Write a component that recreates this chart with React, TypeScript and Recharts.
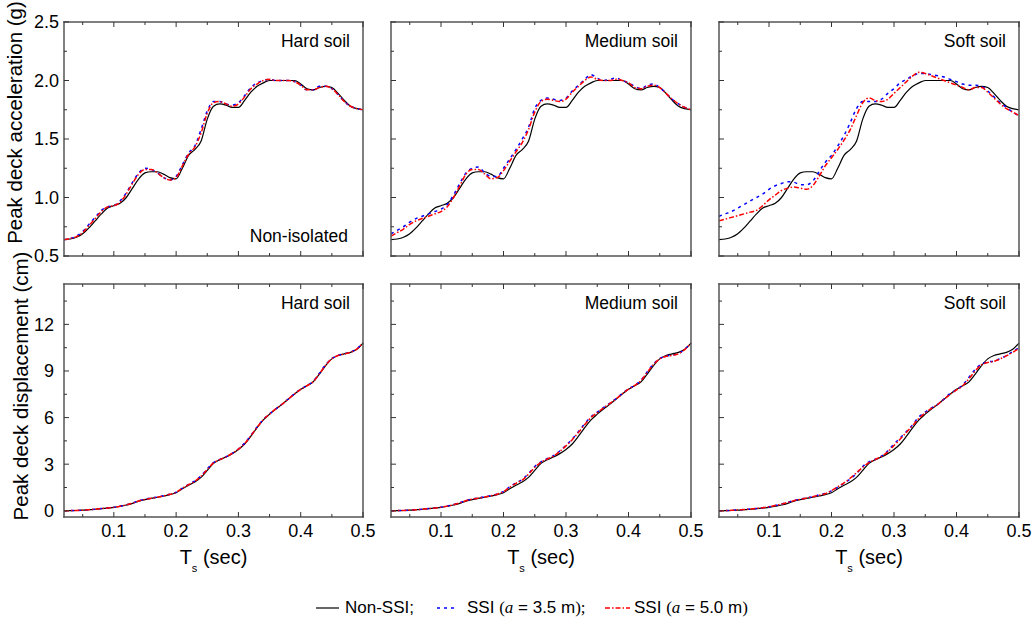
import React from "react";
import { LineChart, Line, XAxis, YAxis } from "recharts";

const FONT = "'Liberation Sans', Arial, sans-serif";
const SERIF = "'Liberation Serif', 'Times New Roman', serif";

// structural period Ts (sec)
const periods = [
  0.02, 0.03, 0.04, 0.05, 0.06, 0.07, 0.08, 0.09, 0.1,
  0.11, 0.12, 0.13, 0.14, 0.15, 0.16, 0.17, 0.18, 0.19, 0.2,
  0.21, 0.22, 0.23, 0.24, 0.25, 0.26, 0.27, 0.28, 0.29, 0.3,
  0.31, 0.32, 0.33, 0.34, 0.35, 0.36, 0.37, 0.38, 0.39, 0.4,
  0.41, 0.42, 0.43, 0.44, 0.45, 0.46, 0.47, 0.48, 0.49, 0.5,
];

// peak deck acceleration (g)
const accNonSsi = [
  0.64, 0.645, 0.66, 0.69, 0.74, 0.8, 0.86, 0.91, 0.93,
  0.95, 1.0, 1.08, 1.16, 1.21, 1.22, 1.22, 1.2, 1.17, 1.16,
  1.25, 1.36, 1.41, 1.48, 1.67, 1.78, 1.8, 1.79, 1.77, 1.77,
  1.83, 1.9, 1.95, 1.98, 2.0, 2.0, 2.0, 2.0, 2.0, 1.97,
  1.93, 1.92, 1.94, 1.95, 1.94, 1.89, 1.83, 1.78, 1.76, 1.75,
];
const accHard35 = [
  0.64, 0.65, 0.67, 0.71, 0.77, 0.83, 0.89, 0.92, 0.93,
  0.97, 1.04, 1.13, 1.21, 1.25, 1.24, 1.21, 1.17, 1.15, 1.18,
  1.28, 1.38, 1.44, 1.58, 1.74, 1.82, 1.82, 1.8, 1.79, 1.81,
  1.87, 1.94, 1.98, 2.0, 2.01, 2.0, 2.0, 2.0, 1.99, 1.96,
  1.92, 1.92, 1.95, 1.95, 1.93, 1.88, 1.82, 1.78, 1.76, 1.75,
];
const accHard50 = [
  0.64, 0.65, 0.665, 0.7, 0.76, 0.82, 0.88, 0.92, 0.93,
  0.96, 1.03, 1.12, 1.2, 1.24, 1.24, 1.21, 1.17, 1.15, 1.17,
  1.27, 1.37, 1.43, 1.55, 1.72, 1.81, 1.82, 1.8, 1.78, 1.8,
  1.86, 1.93, 1.97, 2.0, 2.01, 2.0, 2.0, 2.0, 1.99, 1.96,
  1.92, 1.92, 1.94, 1.95, 1.93, 1.88, 1.82, 1.78, 1.76, 1.75,
];
const accMed35 = [
  0.69, 0.72, 0.75, 0.79, 0.82, 0.84, 0.86, 0.88, 0.9,
  0.94, 1.02, 1.12, 1.21, 1.25, 1.26, 1.21, 1.18, 1.18, 1.25,
  1.33, 1.41, 1.5, 1.6, 1.76, 1.83, 1.85, 1.84, 1.83, 1.85,
  1.91, 1.96, 2.01, 2.05, 2.02, 2.0, 2.01, 2.02, 2.0, 1.98,
  1.95, 1.93, 1.96, 1.97, 1.94, 1.89, 1.84, 1.8, 1.77, 1.75,
];
const accMed50 = [
  0.67, 0.7, 0.73, 0.77, 0.8, 0.82, 0.84, 0.86, 0.88,
  0.92, 1.0, 1.1, 1.2, 1.24, 1.24, 1.2, 1.16, 1.17, 1.23,
  1.31, 1.39, 1.47, 1.58, 1.73, 1.82, 1.84, 1.83, 1.82, 1.84,
  1.9, 1.95, 2.0, 2.03, 2.01, 2.0, 2.0, 2.01, 2.0, 1.98,
  1.94, 1.93, 1.95, 1.96, 1.94, 1.89, 1.84, 1.8, 1.77, 1.75,
];
const accSoft35 = [
  0.84, 0.86, 0.88, 0.91, 0.94, 0.97, 1.0, 1.03, 1.07,
  1.1, 1.12, 1.135, 1.13, 1.11, 1.11, 1.14, 1.22, 1.3, 1.36,
  1.44, 1.53, 1.64, 1.76, 1.82, 1.82, 1.82, 1.84, 1.89, 1.93,
  1.98, 2.01, 2.04, 2.06, 2.06, 2.05, 2.04, 2.03, 2.01, 1.99,
  1.97, 1.96, 1.96, 1.95, 1.91, 1.86, 1.81, 1.77, 1.73, 1.7,
];
const accSoft50 = [
  0.8, 0.815, 0.83, 0.845, 0.86, 0.875, 0.89, 0.93, 0.98,
  1.02, 1.06, 1.08, 1.09, 1.08, 1.07, 1.1, 1.18, 1.27, 1.34,
  1.41, 1.49, 1.58, 1.7, 1.81, 1.85, 1.83, 1.82, 1.84, 1.89,
  1.94, 1.99, 2.04, 2.07, 2.06, 2.04, 2.02, 2.0, 1.98, 1.96,
  1.94, 1.92, 1.94, 1.94, 1.9, 1.85, 1.8, 1.76, 1.73, 1.7,
];

// peak deck displacement (cm)
const dispNonSsi = [
  0.0, 0.01, 0.02, 0.04, 0.07, 0.1, 0.14, 0.18, 0.22,
  0.29, 0.37, 0.48, 0.62, 0.72, 0.8, 0.87, 0.95, 1.04, 1.16,
  1.42, 1.65, 1.85, 2.15, 2.6, 3.05, 3.28, 3.46, 3.68, 3.95,
  4.3, 4.8, 5.35, 5.85, 6.22, 6.55, 6.85, 7.18, 7.52, 7.82,
  8.05, 8.3, 8.8, 9.35, 9.78, 10.0, 10.1, 10.2, 10.4, 10.8,
];
const dispHard35 = [
  0.0, 0.01, 0.02, 0.04, 0.07, 0.1, 0.14, 0.18, 0.22,
  0.29, 0.38, 0.5, 0.64, 0.74, 0.82, 0.89, 0.97, 1.07, 1.2,
  1.46, 1.7, 1.92, 2.25, 2.7, 3.1, 3.3, 3.48, 3.7, 3.98,
  4.35, 4.85, 5.4, 5.88, 6.24, 6.56, 6.86, 7.19, 7.53, 7.83,
  8.06, 8.33, 8.85, 9.4, 9.8, 10.01, 10.11, 10.22, 10.42, 10.82,
];
const dispHard50 = [
  0.0, 0.01, 0.02, 0.04, 0.07, 0.1, 0.14, 0.18, 0.22,
  0.29, 0.38, 0.49, 0.63, 0.73, 0.81, 0.88, 0.96, 1.06, 1.19,
  1.45, 1.68, 1.9, 2.22, 2.66, 3.08, 3.29, 3.47, 3.69, 3.97,
  4.33, 4.83, 5.38, 5.87, 6.23, 6.56, 6.86, 7.19, 7.52, 7.82,
  8.05, 8.31, 8.82, 9.37, 9.79, 10.0, 10.1, 10.21, 10.41, 10.81,
];
const dispMed35 = [
  0.0, 0.01, 0.02, 0.04, 0.07, 0.1, 0.14, 0.18, 0.23,
  0.3, 0.4, 0.52, 0.66, 0.76, 0.83, 0.9, 0.98, 1.08, 1.25,
  1.55, 1.8, 2.02, 2.4, 2.85, 3.15, 3.35, 3.55, 3.85, 4.22,
  4.62, 5.1, 5.6, 6.05, 6.35, 6.65, 6.92, 7.22, 7.55, 7.85,
  8.08, 8.4, 8.95, 9.45, 9.8, 9.95, 10.02, 10.12, 10.4, 10.8,
];
const dispMed50 = [
  0.0, 0.01, 0.02, 0.04, 0.07, 0.1, 0.14, 0.18, 0.23,
  0.3, 0.39, 0.51, 0.65, 0.75, 0.82, 0.89, 0.97, 1.07, 1.23,
  1.52, 1.77, 1.98, 2.35, 2.8, 3.12, 3.33, 3.52, 3.82, 4.18,
  4.58, 5.05, 5.55, 6.0, 6.32, 6.62, 6.9, 7.2, 7.53, 7.83,
  8.07, 8.38, 8.92, 9.42, 9.78, 9.94, 10.01, 10.11, 10.38, 10.78,
];
const dispSoft35 = [
  0.0, 0.01, 0.03, 0.05, 0.08, 0.11, 0.15, 0.2, 0.26,
  0.34, 0.44, 0.55, 0.66, 0.75, 0.83, 0.91, 1.02, 1.12, 1.28,
  1.52, 1.78, 2.05, 2.4, 2.85, 3.15, 3.32, 3.52, 3.85, 4.3,
  4.7, 5.1, 5.55, 6.05, 6.35, 6.62, 6.85, 7.2, 7.55, 7.8,
  8.1, 8.6, 9.1, 9.45, 9.58, 9.65, 9.8, 10.0, 10.25, 10.5,
];
const dispSoft50 = [
  0.0, 0.01, 0.03, 0.05, 0.08, 0.11, 0.15, 0.2, 0.26,
  0.34, 0.43, 0.54, 0.65, 0.74, 0.82, 0.9, 1.0, 1.1, 1.3,
  1.55, 1.8, 2.1, 2.45, 2.8, 3.1, 3.3, 3.5, 3.8, 4.2,
  4.62, 5.05, 5.5, 5.95, 6.3, 6.6, 6.85, 7.18, 7.5, 7.78,
  8.05, 8.5, 9.0, 9.4, 9.55, 9.62, 9.78, 9.98, 10.2, 10.45,
];

const periodTicks = [0.05, 0.1, 0.15, 0.2, 0.25, 0.3, 0.35, 0.4, 0.45, 0.5];
const accTicks = [0.5, 0.75, 1, 1.25, 1.5, 1.75, 2, 2.25, 2.5];
const dispTicks = [0, 1.5, 3, 4.5, 6, 7.5, 9, 10.5, 12, 13.5];
const soilNames = ["Hard soil", "Medium soil", "Soft soil"];

const accSsi = [
  [accHard35, accHard50],
  [accMed35, accMed50],
  [accSoft35, accSoft50],
];
const dispSsi = [
  [dispHard35, dispHard50],
  [dispMed35, dispMed50],
  [dispSoft35, dispSoft50],
];

// plot-area layout on the page
const colLeft = [64, 391, 719];
const colWidth = [299, 300, 300];
const rowTop = [22, 284];
const rowHeight = [234, 233];
const AXIS_L = 60;
const AXIS_T = 40;

const isMajor = (v: number, step: number) =>
  Math.abs(v / step - Math.round(v / step)) < 1e-6;

function xTick(side: "top" | "bottom", showLabel: boolean) {
  return (props: any) => {
    const { x, y, payload } = props;
    const v = payload.value as number;
    const major = isMajor(v, 0.1);
    const dir = side === "bottom" ? -1 : 1;
    return (
      <g>
        <line x1={x} x2={x} y1={y} y2={y + dir * (major ? 5 : 3)} stroke="#333" />
        {showLabel && major && (
          <text x={x} y={y + 20} textAnchor="middle" fontSize={18} fontFamily={FONT} fill="#000">
            {v.toFixed(1)}
          </text>
        )}
      </g>
    );
  };
}

function yTick(side: "left" | "right", step: number, showLabel: boolean, gap: number, digits: number) {
  return (props: any) => {
    const { x, y, payload } = props;
    const v = payload.value as number;
    const major = isMajor(v, step);
    const dir = side === "left" ? 1 : -1;
    return (
      <g>
        <line x1={x} x2={x + dir * (major ? 5 : 3)} y1={y} y2={y} stroke="#333" />
        {showLabel && major && (
          <text x={x - gap} y={y} dy="0.36em" textAnchor="end" fontSize={18} fontFamily={FONT} fill="#000">
            {v.toFixed(digits)}
          </text>
        )}
      </g>
    );
  };
}

const frame = { stroke: "#555", strokeWidth: 1.5, strokeLinecap: "square" as const };

function Panel({ row, col }: { row: number; col: number }) {
  const w = colWidth[col];
  const h = rowHeight[row];
  const isAcc = row === 0;
  const non = isAcc ? accNonSsi : dispNonSsi;
  const [s35, s50] = isAcc ? accSsi[col] : dispSsi[col];
  const data = periods.map((t, i) => ({ t, non: non[i], a35: s35[i], a50: s50[i] }));
  const yDomain = isAcc ? [0.5, 2.5] : [-0.4, 14.6];
  const yTicks = isAcc ? accTicks : dispTicks;
  const yStep = isAcc ? 0.5 : 3;
  const yTitle = isAcc ? "Peak deck acceleration (g)" : "Peak deck displacement (cm)";

  return (
    <div
      style={{
        position: "absolute",
        left: colLeft[col] - AXIS_L,
        top: rowTop[row] - AXIS_T,
      }}
    >
      <LineChart
        width={AXIS_L + w + 24}
        height={AXIS_T + h + 60}
        data={data}
        margin={{ top: 0, right: 14, bottom: 0, left: 0 }}
      >
        <XAxis
          dataKey="t"
          type="number"
          domain={[0.02, 0.5]}
          ticks={periodTicks}
          interval={0}
          height={60}
          tickSize={0}
          tickMargin={0}
          tickLine={false}
          axisLine={frame}
          tick={xTick("bottom", !isAcc)}
          label={
            !isAcc
              ? () => (
                  <text
                    x={AXIS_L + w / 2}
                    y={AXIS_T + h + 47}
                    textAnchor="middle"
                    fontSize={20}
                    fontFamily={FONT}
                    fill="#000"
                  >
                    T
                    <tspan fontSize={11} dy={8}>s</tspan>
                    <tspan dy={-8}> (sec)</tspan>
                  </text>
                )
              : undefined
          }
        />
        <XAxis
          xAxisId="top"
          orientation="top"
          dataKey="t"
          type="number"
          domain={[0.02, 0.5]}
          ticks={periodTicks}
          interval={0}
          height={AXIS_T}
          tickSize={0}
          tickMargin={0}
          tickLine={false}
          axisLine={frame}
          tick={xTick("top", false)}
          label={() => (
            <g fontFamily={FONT} fontSize={17.5} fill="#000">
              <text x={AXIS_L + w - 13} y={AXIS_T + 24.5} textAnchor="end">
                {soilNames[col]}
              </text>
              {isAcc && col === 0 && (
                <text x={AXIS_L + w - 15} y={AXIS_T + 219.5} textAnchor="end">
                  Non-isolated
                </text>
              )}
            </g>
          )}
        />
        <YAxis
          type="number"
          domain={yDomain}
          ticks={yTicks}
          interval={0}
          width={AXIS_L}
          tickSize={0}
          tickMargin={0}
          tickLine={false}
          axisLine={frame}
          tick={yTick("left", yStep, col === 0, isAcc ? 5 : 10, isAcc ? 1 : 0)}
          label={
            col === 0
              ? () => (
                  <text
                    transform={`translate(${isAcc ? 18 : 24}, ${AXIS_T + (isAcc ? 100.5 : 102)}) rotate(-90)`}
                    textAnchor="middle"
                    fontSize={20.5}
                    fontFamily={FONT}
                    fill="#000"
                  >
                    {yTitle}
                  </text>
                )
              : undefined
          }
        />
        <YAxis
          yAxisId="right"
          orientation="right"
          type="number"
          domain={yDomain}
          ticks={yTicks}
          interval={0}
          width={10}
          tickSize={0}
          tickMargin={0}
          tickLine={false}
          axisLine={frame}
          tick={yTick("right", yStep, false, 0, 0)}
        />
        <Line
          dataKey="non"
          type="monotone"
          stroke="#000"
          strokeWidth={1.2}
          dot={false}
          isAnimationActive={false}
        />
        <Line
          dataKey="a35"
          type="monotone"
          stroke="#0000ff"
          strokeWidth={1.5}
          strokeDasharray="3 4"
          dot={false}
          isAnimationActive={false}
        />
        <Line
          dataKey="a50"
          type="monotone"
          stroke="#ff0000"
          strokeWidth={1.5}
          strokeDasharray="5 2 1.5 2"
          dot={false}
          isAnimationActive={false}
        />
      </LineChart>
    </div>
  );
}

function Legend() {
  return (
    <svg
      width={1036}
      height={34}
      style={{ position: "absolute", left: 0, top: 585 }}
      fontFamily={FONT}
      fontSize={17}
    >
      <line x1={316} x2={339} y1={23} y2={23} stroke="#000" strokeWidth={1.2} />
      <text x={345} y={28}>Non-SSI;</text>
      <line x1={437} x2={458} y1={23} y2={23} stroke="#0000ff" strokeWidth={1.5} strokeDasharray="3 4" />
      <text x={467} y={28}>
        SSI <tspan fontFamily={SERIF}>(</tspan>
        <tspan fontFamily={SERIF} fontStyle="italic">a</tspan>
        <tspan> = 3.5 m</tspan>
        <tspan fontFamily={SERIF}>);</tspan>
      </text>
      <line x1={605} x2={630} y1={23} y2={23} stroke="#ff0000" strokeWidth={1.5} strokeDasharray="5 2 1.5 2" />
      <text x={634} y={28}>
        SSI <tspan fontFamily={SERIF}>(</tspan>
        <tspan fontFamily={SERIF} fontStyle="italic">a</tspan>
        <tspan> = 5.0 m</tspan>
        <tspan fontFamily={SERIF}>)</tspan>
      </text>
    </svg>
  );
}

export default function App() {
  return (
    <div style={{ position: "relative", width: 1036, height: 619, background: "#fff", fontFamily: FONT, overflow: "hidden" }}>
      <style>{"body{margin:0}"}</style>
      {[0, 1].map((row) =>
        [0, 1, 2].map((col) => <Panel key={`${row}-${col}`} row={row} col={col} />)
      )}
      <Legend />
    </div>
  );
}
